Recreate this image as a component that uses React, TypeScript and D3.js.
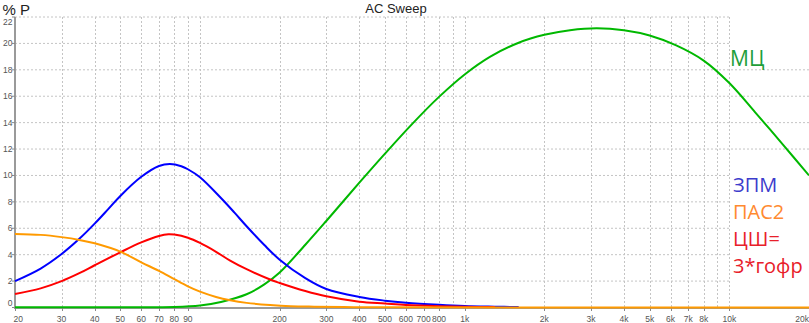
import React from "react";
import * as d3 from "d3";

const W = 809;
const H = 323;

// МЦ (green)
const mcFreq = [20, 50, 80, 100, 120, 150, 175, 200, 250, 300, 400, 500, 630, 800, 1000, 1250, 1600, 2000, 2500, 3150, 4000, 5000, 6300, 8000, 10000, 12500, 16000, 20000];
const mcVal = [0.02, 0.02, 0.04, 0.15, 0.42, 1.0, 1.75, 2.65, 4.75, 6.55, 9.45, 11.65, 13.85, 15.95, 17.65, 19.0, 20.05, 20.65, 21.0, 21.15, 21.0, 20.6, 19.85, 18.7, 17.0, 14.8, 12.3, 10.0];

// ЗПМ (blue)
const zpmFreq = [20, 25, 30, 35, 40, 45, 50, 60, 70, 77, 85, 90, 100, 120, 135, 150, 175, 200, 250, 300, 400, 500, 600, 800, 1000, 1300, 1600];
const zpmVal = [2.0, 2.95, 4.05, 5.2, 6.35, 7.45, 8.45, 9.9, 10.72, 10.87, 10.7, 10.47, 9.86, 8.29, 7.18, 6.15, 4.73, 3.62, 2.22, 1.4, 0.8, 0.52, 0.36, 0.2, 0.11, 0.06, 0.03];

// ЦШ = 3*гофр (red)
const cshFreq = [20, 25, 30, 35, 40, 50, 60, 70, 76, 80, 90, 100, 115, 130, 150, 184, 200, 250, 300, 400, 500, 600, 800, 1000, 1300];
const cshVal = [1.02, 1.45, 2.0, 2.6, 3.2, 4.18, 4.93, 5.42, 5.55, 5.52, 5.28, 4.89, 4.22, 3.55, 2.9, 2.12, 1.86, 1.25, 0.85, 0.44, 0.3, 0.19, 0.1, 0.06, 0.03];

// ПАС2 (orange)
const pasFreq = [20, 25, 30, 35, 40, 50, 60, 70, 80, 90, 100, 115, 130, 150, 184, 220, 270, 350, 500, 20000];
const pasVal = [5.57, 5.5, 5.33, 5.12, 4.86, 4.23, 3.42, 2.77, 2.14, 1.6, 1.2, 0.8, 0.55, 0.35, 0.19, 0.1, 0.06, 0.03, 0.01, 0.0];

const xTickFreq = [20, 30, 40, 50, 60, 70, 80, 90, 200, 300, 400, 500, 600, 700, 800, 1000, 2000, 3000, 4000, 5000, 6000, 7000, 8000, 10000, 20000];
const xTickLabels = ["20", "30", "40", "50", "60", "70", "80", "90", "200", "300", "400", "500", "600", "700", "800", "1k", "2k", "3k", "4k", "5k", "6k", "7k", "8k", "10k", "20k"];
const xGridFreq = [30, 40, 50, 60, 70, 80, 90, 100, 200, 300, 400, 500, 600, 700, 800, 900, 1000, 2000, 3000, 4000, 5000, 6000, 7000, 8000, 9000, 10000, 20000];
const yTicks = [0, 2, 4, 6, 8, 10, 12, 14, 16, 18, 20, 22];

const legendLabels = ["ЗПМ", "ПАС2", "ЦШ=", "3*гофр"];
const legendColors = ["#3c3ccc", "#ff8a30", "#e8202a", "#e8202a"];

export default function App() {
  const x = d3.scaleLog().domain([20, 20000]).range([15, 809]);
  const y = d3.scaleLinear().domain([0, 22]).range([307.5, 17]);

  const mk = (fs: number[], vs: number[]) =>
    d3
      .line<number>()
      .x((_, i) => x(fs[i]))
      .y((v) => y(v))
      .curve(d3.curveCatmullRom.alpha(0.5))(vs) || "";

  const series = [
    { d: mk(mcFreq, mcVal), c: "#00b800" },
    { d: mk(zpmFreq, zpmVal), c: "#0000ff" },
    { d: mk(cshFreq, cshVal), c: "#ff0000" },
    { d: mk(pasFreq, pasVal), c: "#ff9a00" },
  ];

  const grid = "#c4c4c4";
  const tickFont = "'Liberation Sans', Arial, sans-serif";

  return (
    <div style={{ position: "absolute", left: 0, top: 0 }}>
      <svg width={W} height={H} style={{ display: "block", background: "#fff" }}>
        <rect x={0} y={0} width={W} height={H} fill="#fff" />
        {yTicks.filter((t) => t > 0).map((t) => (
          <line key={"h" + t} x1={15} x2={809} y1={y(t)} y2={y(t)} stroke={grid} strokeWidth={1} strokeDasharray="2,2" />
        ))}
        {xGridFreq.map((f) => (
          <line key={"v" + f} x1={Math.round(x(f)) + 0.5} x2={Math.round(x(f)) + 0.5} y1={17} y2={307} stroke={grid} strokeWidth={1} strokeDasharray="2,2" />
        ))}
        <rect x={730} y={10} width={79} height={59} fill="#fff" />
        <rect x={730} y={162} width={79} height={121} fill="#fff" />
        <line x1={15} x2={15} y1={17} y2={309} stroke="#9a9a9a" strokeWidth={2} />
        <line x1={14} x2={809} y1={308} y2={308} stroke="#9a9a9a" strokeWidth={2} />
        {yTicks.map((t) => (
          <line key={"yt" + t} x1={12} x2={15} y1={y(t)} y2={y(t)} stroke="#888" strokeWidth={1} />
        ))}
        {yTicks.map((t) => {
          let cy = y(t) + 3;
          if (t === 22) cy = 24.5;
          if (t === 0) cy = 306;
          return (
            <text key={"yl" + t} x={12.5} y={cy} fontSize={8.5} fontFamily={tickFont} fill="#555" textAnchor="end">
              {t}
            </text>
          );
        })}
        {xTickFreq.map((f) => (
          <line key={"xt" + f} x1={Math.round(x(f)) + 0.5} x2={Math.round(x(f)) + 0.5} y1={308} y2={311} stroke="#888" strokeWidth={1} />
        ))}
        {xTickFreq.map((f, i) => {
          let px = x(f);
          let anchor: "middle" | "start" | "end" = "middle";
          if (i === 0) { px = 13.5; anchor = "start"; }
          if (i === xTickFreq.length - 1) { px = 809; anchor = "end"; }
          return (
            <text key={"xl" + f} x={px} y={321.5} fontSize={8.5} fontFamily={tickFont} fill="#555" textAnchor={anchor}>
              {xTickLabels[i]}
            </text>
          );
        })}
        {series.map((s, i) => (
          <path key={"s" + i} d={s.d} fill="none" stroke={s.c} strokeWidth={2} strokeLinejoin="round" />
        ))}
        <text x={396} y={12.5} fontSize={13} fontFamily={tickFont} fill="#222" textAnchor="middle">
          AC Sweep
        </text>
        <text x={2.5} y={15} fontSize={15} fontFamily={tickFont} fill="#222">
          % P
        </text>
        <text x={730} y={66} fontSize={21} fontFamily="'Open Sans', 'Noto Sans', sans-serif" fill="#1f9e3a">
          МЦ
        </text>
        {legendLabels.map((l, i) => (
          <text key={"lg" + i} x={733} y={192 + i * 27} fontSize={20} fontFamily="'Open Sans', 'Noto Sans', sans-serif" fill={legendColors[i]}>
            {l}
          </text>
        ))}
      </svg>
    </div>
  );
}
